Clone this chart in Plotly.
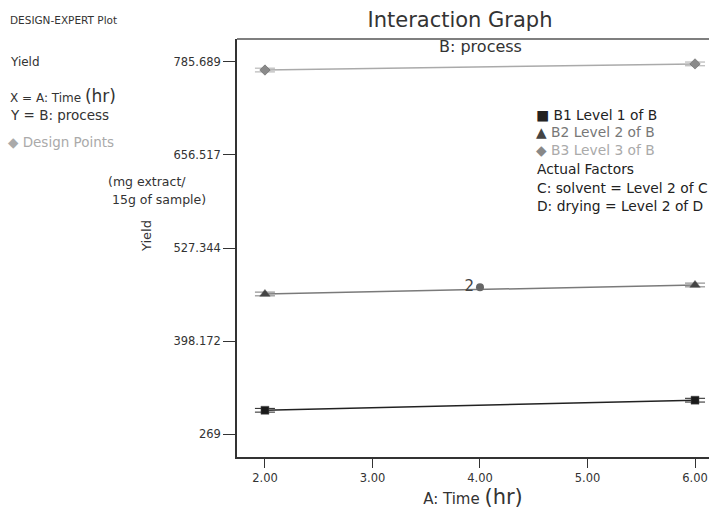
import plotly.graph_objects as go

time_hr = [2.0, 6.0]
b1_yield = [302.0, 316.0]
b2_yield = [463.5, 476.0]
b3_yield = [774.5, 783.0]
design_x = [4.0]
design_y = [473.0]
design_label = ["2"]
y_ticks = [269, 398.172, 527.344, 656.517, 785.689]
y_tick_text = ["269", "398.172", "527.344", "656.517", "785.689"]
x_ticks = [2, 3, 4, 5, 6]
x_tick_text = ["2.00", "3.00", "4.00", "5.00", "6.00"]
lsd_half = [2.6, 2.6]

FONT = "DejaVu Sans, Verdana, sans-serif"

fig = go.Figure()

series = [
    (b1_yield, "square", "#1a1a1a", "#222222", 8),
    (b2_yield, "triangle-up", "#444444", "#7a7a7a", 9),
    (b3_yield, "diamond", "#8a8a8a", "#aaaaaa", 8),
]
for ys, sym, mcol, lcol, msize in series:
    fig.add_trace(go.Scatter(
        x=time_hr, y=ys, mode="lines+markers",
        line=dict(color=lcol, width=1.5),
        marker=dict(symbol=sym, size=msize, color=mcol,
                    line=dict(color="#555555", width=0.5)),
        error_y=dict(type="data", array=lsd_half, visible=True,
                     color=lcol, thickness=1, width=10),
        showlegend=False, hoverinfo="skip"))

fig.add_trace(go.Scatter(
    x=design_x, y=design_y, mode="markers+text",
    marker=dict(symbol="circle", size=8, color="#666666"),
    text=design_label, textposition="middle left",
    textfont=dict(family=FONT, size=15, color="#444444"),
    showlegend=False, hoverinfo="skip"))

fig.update_xaxes(range=[1.74, 6.13], tickvals=x_ticks, ticktext=x_tick_text,
                 showgrid=False, zeroline=False, showline=True,
                 linecolor="#333333", linewidth=1.5, mirror=False,
                 ticks="outside", ticklen=9, tickcolor="#333333",
                 tickfont=dict(family=FONT, size=11.5, color="#333333"),
                 title=dict(text="A: Time <span style='font-size:21px'>(hr)</span>",
                            font=dict(family=FONT, size=15, color="#333333"),
                            standoff=3))
fig.update_yaxes(range=[237.1, 817.6], tickvals=y_ticks, ticktext=y_tick_text,
                 showgrid=False, zeroline=False, showline=True,
                 linecolor="#333333", linewidth=1.5,
                 ticks="outside", ticklen=12, tickcolor="#333333",
                 tickfont=dict(family=FONT, size=11.5, color="#333333"))

# top border
fig.add_shape(type="line", xref="paper", yref="paper", x0=0, x1=1, y0=1, y1=1,
              line=dict(color="#555555", width=1.5))

annos = [
    dict(x=8, y=20, text="DESIGN-EXPERT Plot", size=10.5, color="#333333"),
    dict(x=8, y=62, text="Yield", size=12, color="#333333"),
    dict(x=8, y=96, text="X = A: Time <span style='font-size:17px'>(hr)</span>", size=12, color="#333333"),
    dict(x=8, y=115, text="Y = B: process", size=13.5, color="#333333"),
    dict(x=6, y=142, text="\u25c6 Design Points", size=13.5, color="#aaaaaa"),
    dict(x=106, y=182, text="(mg extract/", size=12.5, color="#333333"),
    dict(x=110, y=200, text="15g of sample)", size=12.5, color="#333333"),
    dict(x=437, y=47, text="B: process", size=16, color="#333333"),
    dict(x=534, y=115, text="\u25a0 B1 Level 1 of B", size=13.8, color="#222222"),
    dict(x=534, y=132, text="\u25b2 <span style='color:#777777'>B2 Level 2 of B</span>", size=13.8, color="#444444"),
    dict(x=534, y=150, text="\u25c6 <span style='color:#aaaaaa'>B3 Level 3 of B</span>", size=13.8, color="#888888"),
    dict(x=535, y=169, text="Actual Factors", size=13.8, color="#222222"),
    dict(x=535, y=188, text="C: solvent = Level 2 of C", size=13.8, color="#222222"),
    dict(x=535, y=206, text="D: drying = Level 2 of D", size=13.8, color="#222222"),
]
for a in annos:
    fig.add_annotation(xref="paper", yref="paper",
                       x=(a["x"] - 237) / 472, y=(457 - a["y"]) / 418,
                       xanchor="left", yanchor="middle", showarrow=False,
                       text=a["text"],
                       font=dict(family=FONT, size=a["size"], color=a["color"]))

fig.add_annotation(xref="paper", yref="paper", x=(147 - 237) / 472, y=(457 - 236) / 418,
                   text="Yield", textangle=-90, showarrow=False,
                   xanchor="center", yanchor="middle",
                   font=dict(family=FONT, size=13, color="#333333"))

fig.update_layout(
    width=709, height=518,
    margin=dict(l=237, r=0, t=39, b=61),
    paper_bgcolor="white", plot_bgcolor="white",
    title=dict(text="Interaction Graph", x=460 / 709, xanchor="center",
               y=1 - 20 / 518, yanchor="middle",
               font=dict(family=FONT, size=21, color="#333333")),
)

fig.write_html("out.html", config={"displayModeBar": False},
               post_script="document.body.style.margin='0px';document.body.style.overflow='hidden';")
